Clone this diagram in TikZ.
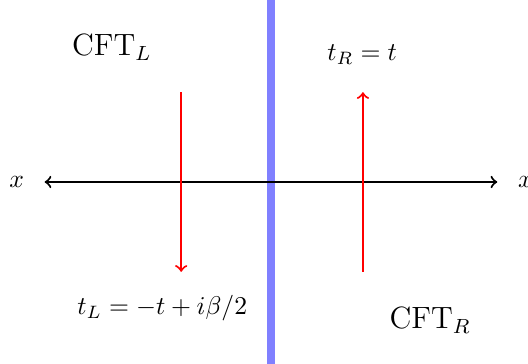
\documentclass[tikz,border=0pt]{standalone}
\usepackage{amsmath}
\usepackage{tikz}
\usetikzlibrary{positioning}
\definecolor{wallblue}{RGB}{128,128,255}
\tikzset{
  wall/.style={
    draw=wallblue,
    line width=2.9pt
  },
  axis/.style={
    <->,
    thick,
    draw=black
  },
  timeflow/.style={
    ->,
    thick,
    draw=red
  },
  cftlabel/.style={
    font=\large
  }
}
\begin{document}
\begin{tikzpicture}
\useasboundingbox (-3.712,-2.493) rectangle (3.521,2.493);
% horizon between the two sides
\coordinate (top) at (0,2.5);
\coordinate (bot) at (0,-2.5);
\draw[wall] (bot) -- (top);
% spatial axis
\coordinate (axl) at (-3.1,0);
\coordinate (axr) at (3.1,0);
\node[left=1.6mm of axl] (xl) {$x$};
\node[right=1.6mm of axr] (xr) {$x$};
\draw[axis] (axl) -- (axr);
% time directions
\coordinate (lt) at (-1.23,1.23);
\coordinate (lb) at (-1.23,-1.23);
\coordinate (rt) at (1.26,1.23);
\coordinate (rb) at (1.26,-1.23);
\draw[timeflow] (lt) -- (lb);
\draw[timeflow] (rb) -- (rt);
% labels
\node[cftlabel] (cftl) at (-2.18,1.85) {CFT$_L$};
\node (tr) at (1.25,1.74) {$t_R = t$};
\node (tl) at (-1.49,-1.73) {$t_L = -t + i\beta/2$};
\node[cftlabel] (cftr) at (2.18,-1.89) {CFT$_R$};
\end{tikzpicture}
\end{document}
